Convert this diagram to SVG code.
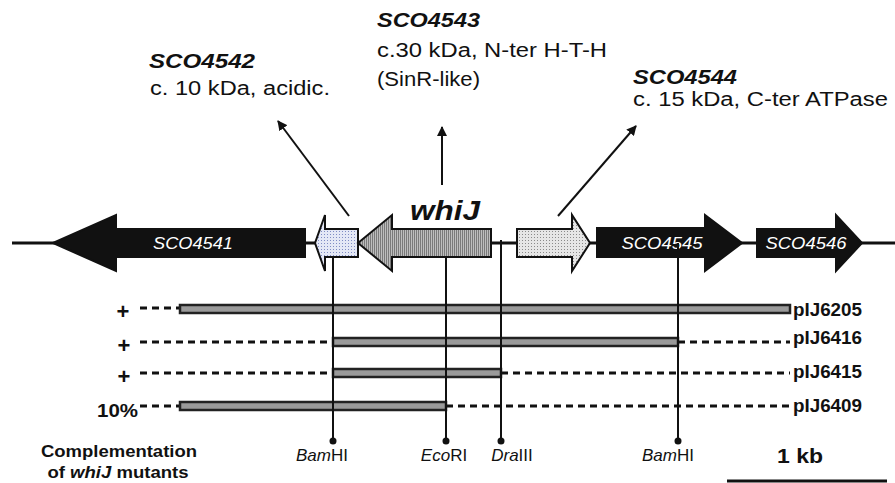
<svg xmlns="http://www.w3.org/2000/svg" width="895" height="483" viewBox="0 0 895 483">
<defs>
<style>
.t{font-family:"Liberation Sans",Arial,sans-serif;fill:#111}
.bi{font-weight:bold;font-style:italic}
.b{font-weight:bold}
.gl{font-family:"Liberation Sans",Arial,sans-serif;font-style:italic;fill:#fff;font-size:17px}
.gene{stroke:#111;stroke-width:2;stroke-linejoin:miter}
.site{stroke:#111;stroke-width:2;fill:none}
.bar{fill:#9a9a9a;stroke:#222;stroke-width:2.5}
.dash{stroke:#111;stroke-width:3;stroke-dasharray:7 5;fill:none}
.ptr{stroke:#111;stroke-width:2;fill:none;marker-end:url(#ah)}
.sl{font-family:"Liberation Sans",Arial,sans-serif;fill:#111;font-size:17px;text-anchor:middle}
</style>
<marker id="ah" viewBox="0 0 10 10" refX="9" refY="5" markerWidth="5" markerHeight="5" orient="auto" markerUnits="strokeWidth">
<path d="M0,0 L10,5 L0,10 z" fill="#111"/>
</marker>
<pattern id="pBlue" width="3" height="3" patternUnits="userSpaceOnUse">
<rect width="3" height="3" fill="#e4e8f6"/>
<rect x="0" y="0" width="1" height="1" fill="#7f8cc4"/>
</pattern>
<pattern id="pGrey" width="3" height="3" patternUnits="userSpaceOnUse">
<rect width="3" height="3" fill="#e6e6e6"/>
<rect x="0" y="0" width="1" height="1" fill="#8a8a8a"/>
</pattern>
<pattern id="pStripe" width="2" height="3" patternUnits="userSpaceOnUse">
<rect width="2" height="3" fill="#bdbdbd"/>
<rect x="0" y="0" width="1" height="3" fill="#7a7a7a"/>
</pattern>
</defs>
<rect width="895" height="483" fill="#fff"/>

<!-- backbone -->
<g id="backbone"><line x1="12" y1="243" x2="895" y2="243" stroke="#111" stroke-width="3"/></g>

<!-- annotation texts -->
<g id="label-SCO4542">
<text class="t bi" x="149" y="68" font-size="20" textLength="106" lengthAdjust="spacingAndGlyphs">SCO4542</text>
<text class="t" x="150" y="95" font-size="20" textLength="180" lengthAdjust="spacingAndGlyphs">c. 10 kDa, acidic.</text>
</g>
<g id="label-SCO4543">
<text class="t bi" x="377" y="27" font-size="20" textLength="103" lengthAdjust="spacingAndGlyphs">SCO4543</text>
<text class="t" x="377" y="57" font-size="20" textLength="230" lengthAdjust="spacingAndGlyphs">c.30 kDa, N-ter H-T-H</text>
<text class="t" x="377" y="86" font-size="20" textLength="103" lengthAdjust="spacingAndGlyphs">(SinR-like)</text>
</g>
<g id="label-SCO4544">
<text class="t bi" x="633" y="84" font-size="20" textLength="104" lengthAdjust="spacingAndGlyphs">SCO4544</text>
<text class="t" x="633" y="106" font-size="20" textLength="255" lengthAdjust="spacingAndGlyphs">c. 15 kDa, C-ter ATPase</text>
</g>

<!-- genes -->
<g id="SCO4541">
<polygon class="gene" fill="#111" points="53,243 116,215 116,229 305,229 305,257 116,257 116,271"/>
<text class="gl" x="193" y="249" text-anchor="middle" textLength="80" lengthAdjust="spacingAndGlyphs">SCO4541</text>
</g>
<g id="SCO4542">
<polygon class="gene" fill="url(#pBlue)" points="315,243 325,215 325,229 358,229 358,257 325,257 325,271"/>
</g>
<g id="whiJ">
<polygon class="gene" fill="url(#pStripe)" points="358,243 392,215 392,229 491,229 491,257 392,257 392,271"/>
<text class="t bi" x="410" y="220" font-size="27" textLength="70" lengthAdjust="spacingAndGlyphs">whiJ</text>
</g>
<g id="SCO4544">
<polygon class="gene" fill="url(#pGrey)" points="517,229 572,229 572,215 590,243 572,271 572,257 517,257"/>
</g>
<g id="SCO4545">
<polygon class="gene" fill="#111" points="597,228 705,228 705,215 742,243 705,271 705,257 597,257"/>
<text class="gl" x="662" y="249" text-anchor="middle" textLength="81" lengthAdjust="spacingAndGlyphs">SCO4545</text>
</g>
<g id="SCO4546">
<polygon class="gene" fill="#111" points="757,229 836,229 836,215 862,243 836,271 836,257 757,257"/>
<text class="gl" x="806" y="249" text-anchor="middle" textLength="81" lengthAdjust="spacingAndGlyphs">SCO4546</text>
</g>

<!-- plasmids -->
<g id="pIJ6205">
<line class="dash" x1="140" y1="308" x2="180" y2="308"/>
<rect class="bar" x="180" y="305" width="610" height="8"/>
<text class="t b" x="123" y="319" font-size="22" text-anchor="middle">+</text>
<text class="t b" x="793" y="316" font-size="18" textLength="69" lengthAdjust="spacingAndGlyphs">pIJ6205</text>
</g>
<g id="pIJ6416">
<line class="dash" x1="140" y1="342" x2="333" y2="342"/>
<line class="dash" x1="678" y1="342" x2="790" y2="342"/>
<rect class="bar" x="333" y="338" width="345" height="8"/>
<text class="t b" x="124" y="353" font-size="22" text-anchor="middle">+</text>
<text class="t b" x="793" y="344" font-size="18" textLength="69" lengthAdjust="spacingAndGlyphs">pIJ6416</text>
</g>
<g id="pIJ6415">
<line class="dash" x1="140" y1="373" x2="333" y2="373"/>
<line class="dash" x1="501" y1="373" x2="790" y2="373"/>
<rect class="bar" x="333" y="369" width="168" height="8"/>
<text class="t b" x="124" y="384" font-size="22" text-anchor="middle">+</text>
<text class="t b" x="793" y="378" font-size="18" textLength="69" lengthAdjust="spacingAndGlyphs">pIJ6415</text>
</g>
<g id="pIJ6409">
<line class="dash" x1="140" y1="406" x2="180" y2="406"/>
<line class="dash" x1="446" y1="406" x2="790" y2="406"/>
<rect class="bar" x="180" y="402" width="266" height="8"/>
<text class="t b" x="97" y="417" font-size="18" textLength="41" lengthAdjust="spacingAndGlyphs">10%</text>
<text class="t b" x="793" y="412" font-size="18" textLength="69" lengthAdjust="spacingAndGlyphs">pIJ6409</text>
</g>

<!-- connectors: pointers and restriction sites -->
<g id="connectors">
<line class="ptr" x1="349" y1="216" x2="278" y2="121"/>
<line class="ptr" x1="442" y1="185" x2="442" y2="127"/>
<line class="ptr" x1="558" y1="216" x2="636" y2="126"/>
<line class="site" x1="333" y1="257" x2="333" y2="441"/>
<line class="site" x1="446" y1="257" x2="446" y2="441"/>
<line class="site" x1="501" y1="240" x2="501" y2="441"/>
<line class="site" x1="678" y1="243" x2="678" y2="441"/>
<circle cx="333" cy="441" r="3.5" fill="#111"/>
<circle cx="446" cy="441" r="3.5" fill="#111"/>
<circle cx="501" cy="441" r="3.5" fill="#111"/>
<circle cx="678" cy="441" r="3.5" fill="#111"/>
</g>

<!-- site labels -->
<g id="site-labels">
<text class="sl" x="322" y="461"><tspan font-style="italic">Bam</tspan>HI</text>
<text class="sl" x="444" y="461"><tspan font-style="italic">Eco</tspan>RI</text>
<text class="sl" x="512" y="461"><tspan font-style="italic">Dra</tspan>III</text>
<text class="sl" x="668" y="461"><tspan font-style="italic">Bam</tspan>HI</text>
</g>

<g id="legend">
<text class="t b" x="119" y="457" font-size="16" text-anchor="middle" textLength="156" lengthAdjust="spacingAndGlyphs">Complementation</text>
<text class="t b" x="118" y="478" font-size="16" text-anchor="middle" textLength="141" lengthAdjust="spacingAndGlyphs">of <tspan font-style="italic">whiJ</tspan> mutants</text>
</g>

<g id="scale">
<text class="t b" x="777" y="463" font-size="20" textLength="46" lengthAdjust="spacingAndGlyphs">1 kb</text>
<line x1="727" y1="481" x2="887" y2="481" stroke="#111" stroke-width="3"/>
</g>
</svg>
